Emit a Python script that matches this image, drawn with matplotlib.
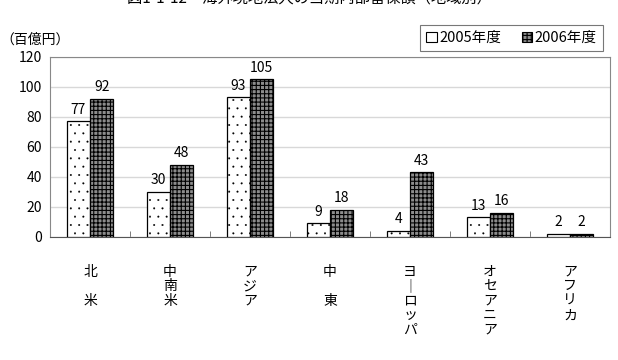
import numpy as np
import matplotlib
matplotlib.use("Agg")
import matplotlib.pyplot as plt
from matplotlib.patches import Patch

plt.rcParams['font.family'] = ['Noto Sans CJK JP', 'DejaVu Sans']
plt.rcParams['hatch.linewidth'] = 0.8

regions = ["北\n\n米", "中\n南\n米", "ア\nジ\nア", "中\n\n東",
           "ヨ\n｜\nロ\nッ\nパ", "オ\nセ\nア\nニ\nア", "ア\nフ\nリ\nカ"]
fy2005 = [77, 30, 93, 9, 4, 13, 2]
fy2006 = [92, 48, 105, 18, 43, 16, 2]
series_names = ["2005年度", "2006年度"]

fig = plt.figure(figsize=(6.18, 3.6), dpi=100)
ax = fig.add_axes([0.081, 0.342, 0.906, 0.5])

x = np.arange(len(regions))
w = 0.29
bars05 = ax.bar(x - w / 2, fy2005, w, facecolor='white', edgecolor='black',
                hatch='..', linewidth=0.9, zorder=3)
ax.bar(x + w / 2, fy2006, w, facecolor='#8c8c8c', edgecolor='black',
       hatch='++++', linewidth=0.9, zorder=3)
# smaller dots on the 2005 bars
for b in bars05:
    if hasattr(b, 'set_hatch_linewidth'):
        b.set_hatch_linewidth(0.2)

for xi, v in zip(x - w / 2, fy2005):
    ax.text(xi, v + 3, str(v), ha='center', va='bottom', fontsize=10)
for xi, v in zip(x + w / 2, fy2006):
    ax.text(xi, v + 3, str(v), ha='center', va='bottom', fontsize=10)

ax.set_xlim(-0.5, len(regions) - 0.5)
ax.set_ylim(0, 120)
ax.set_yticks(range(0, 121, 20))
ax.tick_params(axis='y', length=0, labelsize=10, pad=6)
ax.set_xticks(x)
ax.set_xticklabels(regions, fontsize=10, linespacing=1.05)
ax.tick_params(axis='x', length=0, pad=20)
ax.set_xticks(np.arange(0.5, len(regions) - 0.5), minor=True)
ax.tick_params(axis='x', which='minor', length=4, direction='in', color='#666666')
ax.grid(axis='y', color='#d8d8d8', linewidth=1, zorder=0)
for s in ax.spines.values():
    s.set_color('#888888')
ax.spines['bottom'].set_color('#555555')

fig.text(0.5, 1.005, "図1-1-12　海外現地法人の当期内部留保額（地域別）",
         ha='center', va='center', fontsize=11)
fig.text(0.0, 0.89, "（百億円）", ha='left', va='center', fontsize=10)

handles = [Patch(facecolor='white', edgecolor='black', linewidth=0.8),
           Patch(facecolor='#8c8c8c', edgecolor='black', hatch='++++', linewidth=0.8)]
leg = fig.legend(handles, series_names, loc='upper right', bbox_to_anchor=(0.987, 0.95),
                 ncol=2, fontsize=10.5, frameon=True, fancybox=False, edgecolor='#555555',
                 handlelength=0.7, handleheight=0.7, handletextpad=0.2, columnspacing=1.4,
                 borderpad=0.4)
leg.get_frame().set_linewidth(0.8)

fig.savefig("out.png", dpi=100, facecolor='white')
